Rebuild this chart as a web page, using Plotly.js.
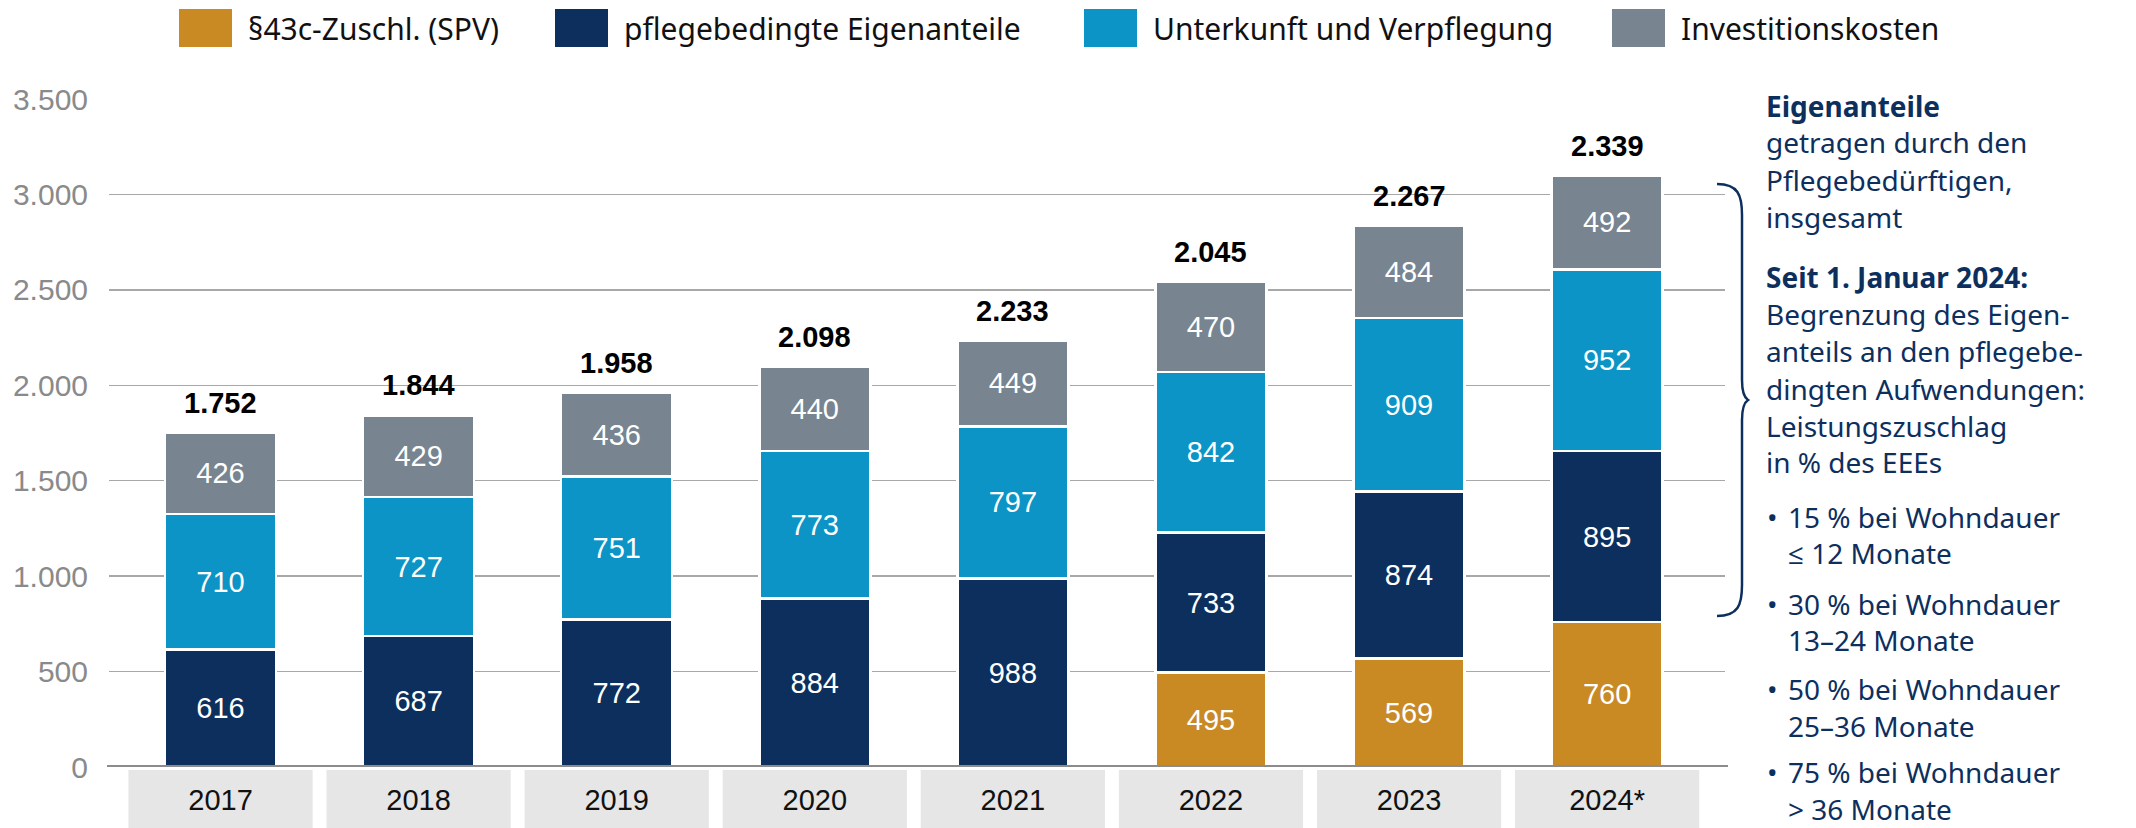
<!DOCTYPE html>
<html>
<head>
<meta charset="utf-8">
<script src="https://cdn.plot.ly/plotly-3.0.1.min.js"></script>
<style>html,body{margin:0;padding:0;background:#fff}#chart{width:2136px;height:828px}</style>
</head>
<body>
<div id="chart"></div>
<script>
// ---- data ----
const years = ['2017','2018','2019','2020','2021','2022','2023','2024*'];
const seriesNames = ['§43c-Zuschl. (SPV)','pflegebedingte Eigenanteile','Unterkunft und Verpflegung','Investitionskosten'];
const spv = [null,null,null,null,null,495,569,760];
const pflege = [616,687,772,884,988,733,874,895];
const unterkunft = [710,727,751,773,797,842,909,952];
const invest = [426,429,436,440,449,470,484,492];
const totalsLabel = [1752,1844,1958,2098,2233,2045,2267,2339];
const yTicks = [0,500,1000,1500,2000,2500,3000,3500];

const colors = ['#C98A24','#0C2F5E','#0B94C5','#788490'];
const navy = '#0D2F5E';
const chartFont = 'Liberation Sans, Arial, sans-serif';
const noteFont = 'Noto Sans, Open Sans, sans-serif';

// ---- geometry helpers (layout) ----
const L = 109, R = 1725, T = 99, B = 767, W = 2136, H = 828;
const px2x = p => (p - L) / (R - L);
const px2y = p => (B - p) / (B - T);
const de = n => String(n).replace(/\B(?=(\d{3})+(?!\d))/g, '.');

const seriesVals = [spv, pflege, unterkunft, invest];
const traces = seriesVals.map((vals, i) => ({
  type: 'bar',
  x: years,
  y: vals,
  name: seriesNames[i],
  marker: {color: colors[i], line: {color: '#ffffff', width: 2.5}},
  text: vals.map(v => v == null ? '' : String(v)),
  textposition: 'inside',
  insidetextanchor: 'middle',
  textangle: 0,
  textfont: {family: chartFont, size: 29, color: '#ffffff'},
  hoverinfo: 'x+y+name',
  showlegend: false
}));

const stackTop = years.map((_, j) => seriesVals.reduce((s, a) => s + (a[j] || 0), 0));

const annotations = [];
// totals above bars (x given as category index)
years.forEach((yr, j) => {
  annotations.push({
    x: j, y: stackTop[j], xref: 'x', yref: 'y',
    text: '<b>' + de(totalsLabel[j]) + '</b>',
    showarrow: false, yanchor: 'bottom', yshift: 12,
    font: {family: chartFont, size: 29, color: '#000000'}
  });
});

// custom legend
const swatchLeft = [179, 555, 1084, 1612];
const shapes = [];
seriesNames.forEach((nm, i) => {
  shapes.push({type: 'rect', xref: 'paper', yref: 'paper',
    x0: px2x(swatchLeft[i]), x1: px2x(swatchLeft[i] + 53),
    y0: px2y(9), y1: px2y(47), fillcolor: colors[i], line: {width: 0}, layer: 'above'});
  annotations.push({xref: 'paper', yref: 'paper', x: px2x(swatchLeft[i] + 67), y: px2y(28),
    xanchor: 'left', yanchor: 'middle', showarrow: false, text: nm,
    font: {family: noteFont, size: 30, color: '#111111'}});
});

// category boxes
years.forEach((yr, j) => {
  shapes.push({type: 'rect', xref: 'x', yref: 'paper', x0: j - 0.465, x1: j + 0.465,
    y0: px2y(770), y1: px2y(H + 2), fillcolor: '#E6E6E6', line: {width: 0}, layer: 'below'});
});
// baseline
shapes.push({type: 'line', xref: 'paper', yref: 'y', x0: px2x(107), x1: px2x(1728), y0: 0, y1: 0,
  line: {color: '#8C8C8C', width: 4}, layer: 'above'});

// brace
const bp = [[1717,184],[1738,184],[1742,195],[1742,215],[1742,380],[1742,392],[1745,398],[1748,400],
            [1745,402],[1742,408],[1742,420],[1742,585],[1742,605],[1738,616],[1717,616]];
const P = p => px2x(p[0]) + ',' + px2y(p[1]);
const bracePath = 'M' + P(bp[0]) + ' C' + P(bp[1]) + ' ' + P(bp[2]) + ' ' + P(bp[3]) +
  ' L' + P(bp[4]) + ' C' + P(bp[5]) + ' ' + P(bp[6]) + ' ' + P(bp[7]) +
  ' C' + P(bp[8]) + ' ' + P(bp[9]) + ' ' + P(bp[10]) +
  ' L' + P(bp[11]) + ' C' + P(bp[12]) + ' ' + P(bp[13]) + ' ' + P(bp[14]);
shapes.push({type: 'path', xref: 'paper', yref: 'paper', path: bracePath,
  line: {color: navy, width: 2.5}, layer: 'above'});

// side note
const noteLines = [
  ['<b>Eigenanteile</b>', 106, false],
  ['getragen durch den', 142, false],
  ['Pflegebedürftigen,', 180, false],
  ['insgesamt', 217, false],
  ['<b>Seit 1. Januar 2024:</b>', 277, false],
  ['Begrenzung des Eigen-', 314, false],
  ['anteils an den pflegebe-', 351, false],
  ['dingten Aufwendungen:', 389, false],
  ['Leistungszuschlag', 426, false],
  ['in % des EEEs', 462, false],
  ['15 % bei Wohndauer', 517, true],
  ['≤ 12 Monate', 553, 'i'],
  ['30 % bei Wohndauer', 604, true],
  ['13–24 Monate', 640, 'i'],
  ['50 % bei Wohndauer', 689, true],
  ['25–36 Monate', 726, 'i'],
  ['75 % bei Wohndauer', 772, true],
  ['&gt; 36 Monate', 809, 'i']
];
noteLines.forEach(([t, y, b]) => {
  const xpx = b ? 1787 : 1765;
  annotations.push({xref: 'paper', yref: 'paper', x: px2x(xpx), y: px2y(y), xanchor: 'left', yanchor: 'middle',
    showarrow: false, text: t, borderpad: 0, font: {family: noteFont, size: 28, color: navy}});
  if (b === true) {
    annotations.push({xref: 'paper', yref: 'paper', x: px2x(1766), y: px2y(y), xanchor: 'left', yanchor: 'middle',
      showarrow: false, text: '•', borderpad: 0, font: {family: noteFont, size: 28, color: navy}});
  }
});

const layout = {
  width: W, height: H,
  margin: {l: L, r: W - R, t: T, b: H - B, pad: 0},
  paper_bgcolor: '#ffffff', plot_bgcolor: '#ffffff',
  barmode: 'stack', bargap: 0.44,
  separators: ',.',
  showlegend: false,
  font: {family: chartFont},
  xaxis: {
    type: 'category', range: [-0.563, 7.595], fixedrange: true,
    showgrid: false, zeroline: false, showline: false, ticks: '',
    tickfont: {family: chartFont, size: 29, color: '#111111'},
    ticklabelstandoff: 13
  },
  yaxis: {
    range: [0, 3500], tickvals: yTicks, tickformat: ',d', fixedrange: true,
    showgrid: true, gridcolor: '#A8A8A8', gridwidth: 1.5,
    zeroline: false, showline: false, ticks: '',
    tickfont: {family: chartFont, size: 30, color: '#8A8A8A'},
    ticklabelstandoff: 20
  },
  shapes: shapes,
  annotations: annotations
};

Plotly.newPlot('chart', traces, layout, {displayModeBar: false, staticPlot: true});
</script>
</body>
</html>
